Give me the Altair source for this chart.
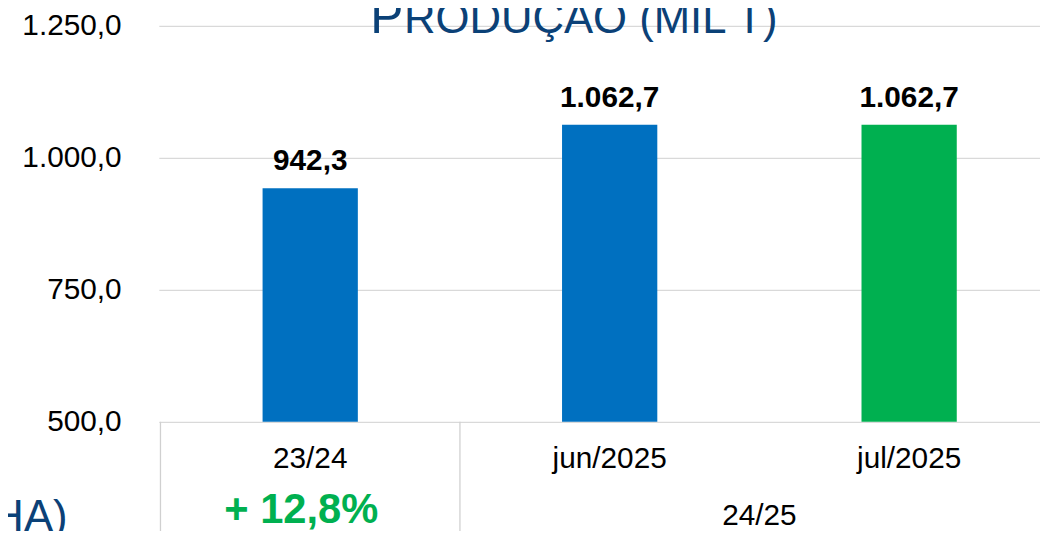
import altair as alt
import pandas as pd

# ---- data ----
categories = ["23/24", "jun/2025", "jul/2025"]
cat_index = [0, 1, 2]
values = [942.3, 1062.7, 1062.7]

group_names = ["+ 12,8%", "24/25"]
group_first = [0, 1]
group_last = [0, 2]

y_ticks = [500, 750, 1000, 1250]
title_first = "P"
title_rest = "RODUÇÃO (MIL T)"
side_title = "ÁREA (MIL HA)"

bar_colors = ["#0070C0", "#0070C0", "#00B050"]
FONT = "Liberation Sans"
TITLE_COLOR = "#0B4177"
GRID = "#D9D9D9"

df = pd.DataFrame({"cat": categories, "idx": cat_index, "v": values})
dg = pd.DataFrame({"g": group_names, "first": group_first, "last": group_last})

ptbr = "replace(replace(replace(format({0}, ',.1f'), ',', 'X'), '.', ','), 'X', '.')"

# ~300 px per category step; the last band runs past the right edge
xscale = alt.Scale(domain=[-0.5055, 2.437], nice=False, zero=False, padding=0)
yscale = alt.Scale(domain=[y_ticks[0], y_ticks[-1]], zero=False, nice=False)

x_enc = alt.X("idx:Q", scale=xscale, axis=None)

bars = alt.Chart(df).mark_bar(width=96, orient="vertical").encode(
    x=x_enc,
    y=alt.Y("v:Q", scale=yscale, axis=alt.Axis(
        values=y_ticks, grid=True, gridColor=GRID, gridWidth=1.3, domain=False,
        ticks=False, labelFontSize=30, labelFont=FONT, labelColor="#000000",
        labelPadding=38, title=None, labelExpr=ptbr.format("datum.value"))),
    y2=alt.datum(y_ticks[0]),
    color=alt.Color("cat:N", scale=alt.Scale(domain=categories, range=bar_colors), legend=None),
)

bar_labels = alt.Chart(df).transform_calculate(
    lab=ptbr.format("datum.v")
).mark_text(fontSize=30, fontWeight="bold", font=FONT, color="#000000",
            baseline="alphabetic", dy=-18).encode(
    x=x_enc, y=alt.Y("v:Q", scale=yscale), text="lab:N")

x_labels = alt.Chart(df).mark_text(fontSize=30, font=FONT, color="#000000",
                                   baseline="middle").encode(
    x=x_enc, y=alt.value(437), text="cat:N")

groups = alt.Chart(dg).transform_calculate(
    center="(datum.first + datum.last) / 2", sep="datum.first - 0.5")

sep_rules = groups.mark_rule(color="#D0D0D0", strokeWidth=1.3).encode(
    x=alt.X("sep:Q", scale=xscale, axis=None), y=alt.value(399), y2=alt.value(530))

grp_pct = groups.transform_filter(alt.datum.g == group_names[0]).mark_text(
    fontSize=42, fontWeight="bold", font=FONT, color="#00B050", baseline="middle", dx=-9).encode(
    x=alt.X("center:Q", scale=xscale, axis=None), y=alt.value(488), text="g:N")

grp_season = groups.transform_filter(alt.datum.g == group_names[1]).mark_text(
    fontSize=30, font=FONT, color="#000000", baseline="middle").encode(
    x=alt.X("center:Q", scale=xscale, axis=None), y=alt.value(494), text="g:N")

t1 = alt.Chart(pd.DataFrame({"t": [title_first]})).mark_text(
    fontSize=50, font=FONT, color=TITLE_COLOR, align="left", baseline="alphabetic").encode(
    x=alt.value(213), y=alt.value(7), text="t:N")
t2 = alt.Chart(pd.DataFrame({"t": [title_rest]})).mark_text(
    fontSize=44, font=FONT, color=TITLE_COLOR, align="left", baseline="alphabetic").encode(
    x=alt.value(247), y=alt.value(7), text="t:N")
t3 = alt.Chart(pd.DataFrame({"t": [side_title]})).mark_text(
    fontSize=44, font=FONT, color=TITLE_COLOR, align="right", baseline="alphabetic").encode(
    x=alt.value(-92), y=alt.value(509), text="t:N")

chart = alt.layer(bars, bar_labels, x_labels, sep_rules, grp_pct, grp_season, t1, t2, t3).properties(
    width=888, height=399,
    padding={"left": 152, "top": 16, "right": 0, "bottom": 108},
    autosize=alt.AutoSizeParams(type="none"),
).configure(font=FONT).configure_view(stroke=None)

chart.save("out.html", embed_options={"renderer": "svg", "actions": False})
